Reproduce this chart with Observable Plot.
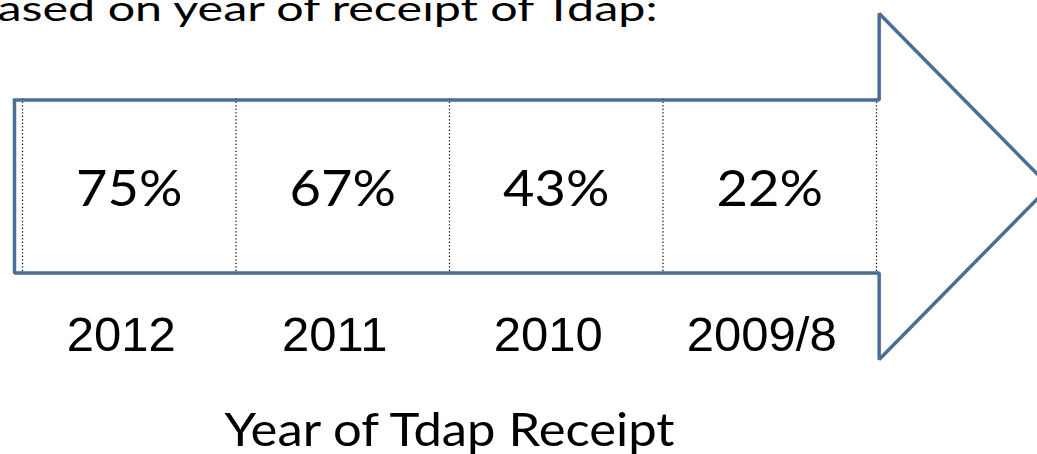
<!DOCTYPE html>
<html><head><meta charset="utf-8">
<script src="https://cdn.jsdelivr.net/npm/d3@7"></script>
<script src="https://cdn.jsdelivr.net/npm/@observablehq/plot@0.6"></script>
<style>html,body{margin:0;padding:0;background:#fff;overflow:hidden}</style>
</head><body><div id="chart"></div>
<script>
// ---- data ----
const years = ["2012", "2011", "2010", "2009/8"];
const percents = [75, 67, 43, 22];
const headline = "ased on year of receipt of Tdap:";
const axisTitle = "Year of Tdap Receipt";

const cells = years.map((year, i) => ({year, pct: percents[i], i}));
const n = years.length;

// arrow outline in scale units (x: cell index edges, y: shaft half-heights)
const shaftLeft = -0.0375, headBase = n + 0.0125, tip = n + 0.81, headHalf = 2.0;
const arrow = [[shaftLeft, 1], [headBase, 1], [headBase, headHalf], [tip, 0],
               [headBase, -headHalf], [headBase, -1], [shaftLeft, -1], [shaftLeft, 1]];

const blue = "#4a6f97";
const gothic = "'Century Gothic','URW Gothic',Lato,sans-serif";
const arial = "'Liberation Sans',Arimo,sans-serif";

const chart = Plot.plot({
  width: 1037, height: 454, margin: 0,
  x: {domain: [0, n], range: [22, 876], axis: null},
  y: {domain: [-1, 1], range: [272.5, 99.5], axis: null},
  marks: [
    Plot.ruleX(d3.range(n + 1), {y1: () => -1, y2: () => 1, insetTop: 2, insetBottom: 2,
      stroke: "#000", strokeWidth: 1.2, strokeDasharray: "1.3,2.2"}),
    Plot.line(arrow, {x: d => d[0], y: d => d[1], stroke: blue, strokeWidth: 3.5,
      strokeLinejoin: "miter", strokeLinecap: "square"}),
    Plot.text(cells, {x: d => d.i + 0.5, y: () => 0, dy: 3, text: d => d.pct + "%",
      fontSize: 50, fontFamily: gothic, fill: "#000"}),
    Plot.text(cells, {x: d => d.i + 0.5, y: () => -1.72, dx: -8, text: "year",
      fontSize: 49, fontFamily: arial, fill: "#000"}),
    Plot.text([axisTitle], {x: () => n / 2, y: () => -2.83, text: d => d,
      fontSize: 47, fontFamily: gothic, fill: "#000"}),
    Plot.text([headline], {frameAnchor: "top-left", textAnchor: "start", lineAnchor: "middle",
      dx: -3, dy: 9.6, text: d => d, fontSize: 35.5, fontFamily: gothic, fill: "#000"})
  ]
});
document.getElementById("chart").appendChild(chart);

// widen the gothic substitute toward Century Gothic's proportions
const pctLabels = new Set(percents.map(p => p + "%"));
d3.select(chart).selectAll("text").each(function () {
  const t = this.textContent;
  let target = null;
  if (t === headline) target = 660;
  else if (t === axisTitle) target = 450;
  else if (pctLabels.has(t)) target = this.getComputedTextLength() * 1.085;
  if (target) {
    this.setAttribute("textLength", target);
    this.setAttribute("lengthAdjust", "spacingAndGlyphs");
  }
});
</script>
</body></html>
